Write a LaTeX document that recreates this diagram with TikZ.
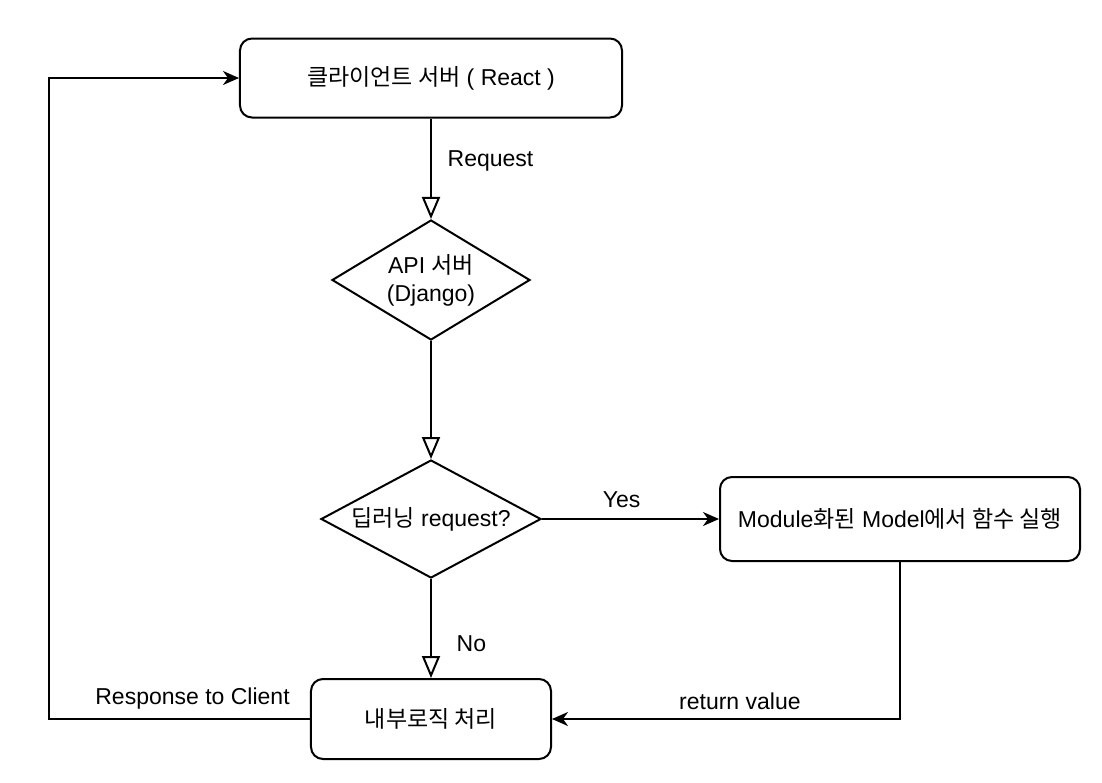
\documentclass[tikz,border=0pt]{standalone}
\usepackage{fontspec}
\setmainfont{Liberation Sans}
\newfontfamily\krfont{Noto Sans CJK KR}
\newcommand{\kr}[1]{{\krfont #1}}
\usetikzlibrary{arrows.meta, positioning, shapes.geometric}

\begin{document}
\begin{tikzpicture}[node distance=100pt, on grid, line width=1pt,
    font=\fontsize{11.5}{14}\selectfont,
    box/.style={draw, rounded corners=6pt, minimum width=191pt, minimum height=39.5pt},
    decision/.style={draw, diamond, inner sep=0pt, align=center},
    flow/.style={-{Triangle[open, length=11pt, width=9pt, fill=white]}},
    back/.style={-{Stealth[length=8pt, width=7pt, inset=2.5pt]}}]
          \useasboundingbox (-215.5pt,39pt) rectangle (335.5pt,-352pt);

          \node[box] (client) {\kr{클라이언트 서버} ( React )};
          \node[decision, aspect=1.65, minimum width=99pt, minimum height=60pt, below=101pt of client] (api) {API \kr{서버}\\(Django)};
          \node[decision, aspect=1.86, minimum width=110pt, minimum height=59pt, below=119.5pt of api] (deep) {\kr{딥러닝} request?};
          \node[box, minimum width=180pt, minimum height=42pt, right=234.5pt of deep] (model) {Module\kr{화된} Model\kr{에서 함수 실행}};
          \node[box, minimum width=120pt, minimum height=40pt, below=100pt of deep] (logic) {\kr{내부로직 처리}};

          \draw[flow] (client) -- node[pos=0.42, right, xshift=4.5pt] {Request} (api);
          \draw[flow] (api) -- (deep);
          \draw[back] (deep) -- node[pos=0.45, above, yshift=2pt] {Yes} (model);
          \draw[flow] (deep) -- node[pos=0.65, right, xshift=9pt] {No} (logic);

          % results go back to the client
          \draw[back] (model.south) |- node[pos=0.73, above, yshift=1pt] {return value} (logic.east);
          \draw[back] (logic.west) -- ++(-130.5pt,0) coordinate (corner)
            node[pos=0.45, above, yshift=1pt] {Response to Client}
            |- (client.west);
        \end{tikzpicture}
\end{document}
